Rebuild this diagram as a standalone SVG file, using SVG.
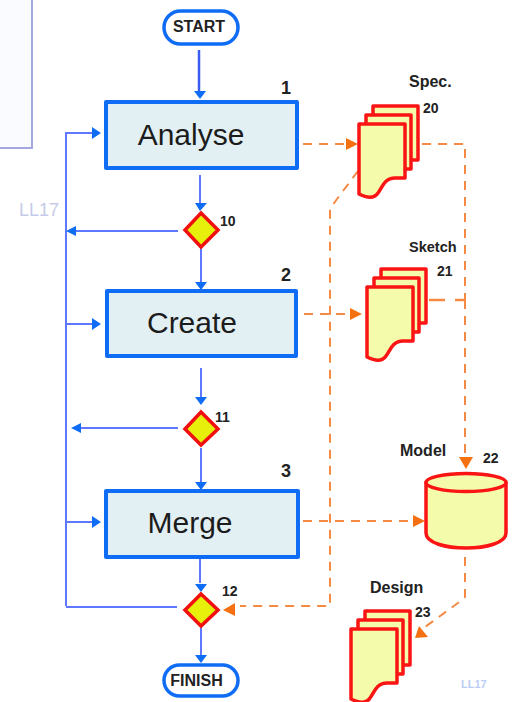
<svg xmlns="http://www.w3.org/2000/svg" width="515" height="702" viewBox="0 0 515 702">
<style>
text{font-family:"Liberation Sans",Arial,sans-serif;fill:#222}
.b{font-weight:bold}
.box{fill:#e2f0f4;stroke:#0f6cf5;stroke-width:4;stroke-linejoin:round}
.term{fill:#fff;stroke:#0f6cf5;stroke-width:3.5}
.dia{fill:#e6f00a;stroke:#f01010;stroke-width:3.5}
.doc{fill:#f4fbaa;stroke:#fa1414;stroke-width:3.5;stroke-linejoin:round}
.bl{fill:none;stroke:#5f78ff;stroke-width:2}
.or{fill:none;stroke:#f58a45;stroke-width:2;stroke-dasharray:9 7}
.bh{fill:#0f6cf5}
.oh{fill:#f57010}
.lbl{font-size:30px;fill:#1c1c1c}
.t{font-size:16px}
.n{font-size:14px}
</style>
<defs>
<g id="stack">
<path class="doc" d="M14 -18H59V36H14Z"/>
<path class="doc" d="M7 -9H52V45H7Z"/>
<path class="doc" d="M0 0H46V54H36C25 54 23 64 19 69C15 75 8 74 0 70Z"/>
</g>
</defs>

<rect id="panel" x="-4" y="-4" width="36" height="152" fill="#fafbfe" stroke="#a3a8e0" stroke-width="2"/>
<text x="19" y="216" font-size="18" style="fill:#c5cbe8">LL17</text>
<text x="461" y="688" font-size="11" class="b" style="fill:#bccdf5">LL17</text>

<g id="connectors">
<path fill="none" stroke="#3a5cf0" stroke-width="2.500" d="M199 50V92"/>
<path class="bl" d="M200 175V203M201 246V282M201 368V402M201 448V482M200 557V583M201 625V656"/>
<path class="bl" d="M178 231H74M66 606V133H96M66 324H96M66 522H96M178 428H80M177 607H66"/>
<path class="or" d="M303 144H347M422 144H465V300M465 300V458M304 314H350M303 521H414"/>
<path class="or" d="M465 557V597L462 600L425 627"/>
<path fill="none" stroke="#f58a45" stroke-width="2.500" d="M429 300H445M455 300H465"/>
<path class="or" d="M358 171L337 199L330 209V606H240"/>
<path class="bh" d="M194 91H206L200 99ZM195 203H207L200 211ZM195 282H207L201 290ZM195 397H207L201 405ZM195 482H207L201 490ZM195 584H207L201 592ZM195 655H207L201 663Z"/>
<path class="bh" d="M92 127L101 133L92 139ZM92 318L101 324L92 330ZM92 516L101 522L92 528ZM76 226L66 231L76 236ZM81 423L71 428L81 433Z"/>
<path class="oh" d="M346 138L358 144L346 150ZM350 308L362 314L350 320ZM413 515L425 521L413 527ZM459 457H473L466 469ZM415 638L419 626L428 637ZM235 603L223 610L235 616Z"/>
</g>

<g id="start"><rect class="term" x="164" y="11" width="74" height="33" rx="16.500"/><text x="199" y="32" text-anchor="middle" class="b t">START</text></g>
<g id="n1"><rect class="box" x="106" y="102" width="191" height="66"/><text x="191" y="145" class="lbl" text-anchor="middle">Analyse</text><text x="281" y="94" font-size="18" class="b">1</text></g>
<g id="n2"><rect class="box" x="107" y="291" width="189" height="65"/><text x="192" y="333" class="lbl" text-anchor="middle">Create</text><text x="281" y="281" font-size="18" class="b">2</text></g>
<g id="n3"><rect class="box" x="106" y="491" width="192" height="66"/><text x="190" y="533" class="lbl" text-anchor="middle">Merge</text><text x="281" y="477" font-size="18" class="b">3</text></g>
<g id="d10"><path class="dia" d="M201 213L218 230L201 247L185 230Z"/><text x="220" y="226" class="b n">10</text></g>
<g id="d11"><path class="dia" d="M201 412L218 429L201 445L185 429Z"/><text x="215" y="422" class="b n">11</text></g>
<g id="d12"><path class="dia" d="M201 594L218 610L201 626L185 610Z"/><text x="222" y="596" class="b n">12</text></g>
<g id="finish"><rect class="term" x="164" y="665" width="74" height="31" rx="15.500"/><text x="196.500" y="686" text-anchor="middle" class="b t">FINISH</text></g>

<g id="d20" transform="translate(359,124)"><use href="#stack"/><text x="50" y="-37" class="b t">Spec.</text><text x="64" y="-11" class="b n">20</text></g>
<g id="d21" transform="translate(367,287)"><use href="#stack"/><text x="42" y="-35" font-size="14.500" class="b">Sketch</text><text x="70" y="-11" class="b n">21</text></g>
<g id="d22"><path class="doc" d="M426 482V533C426 553 506 553 506 533V482Z"/><ellipse class="doc" cx="466" cy="482.500" rx="40" ry="9"/><text x="400" y="456" class="b t">Model</text><text x="483" y="463" class="b n">22</text></g>
<g id="d23" transform="translate(351,629)"><use href="#stack"/><text x="19" y="-36" class="b t">Design</text><text x="64" y="-12" class="b n">23</text></g>
</svg>
